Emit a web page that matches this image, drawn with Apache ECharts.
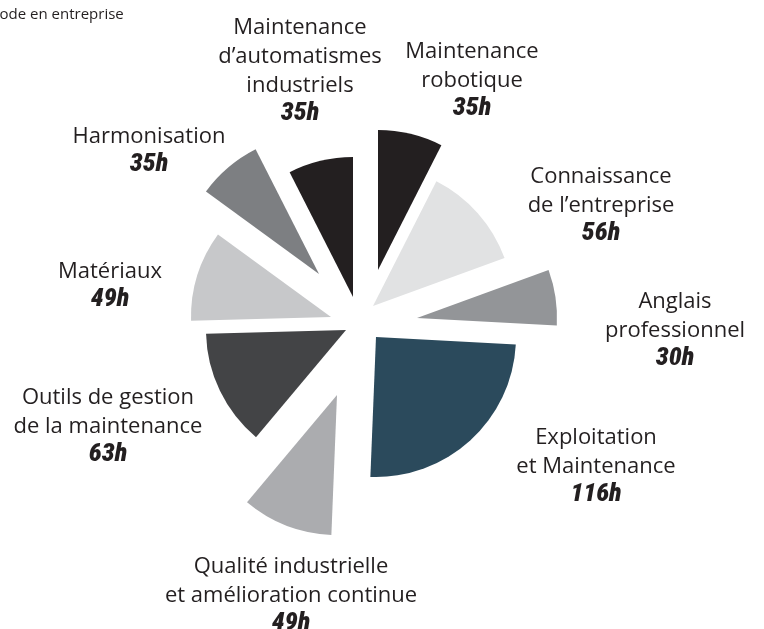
<!DOCTYPE html>
<html>
<head>
<meta charset="utf-8">
<script src="https://cdn.jsdelivr.net/npm/echarts@6/dist/echarts.min.js"></script>
<style>
html,body{margin:0;padding:0;background:#fff;}
#chart{width:764px;height:629px;}
</style>
</head>
<body>
<div id="chart"></div>
<script>
// Data (clockwise from 12 o'clock)
const categories = [
  "Maintenance\nrobotique",
  "Connaissance\nde l’entreprise",
  "Anglais\nprofessionnel",
  "Exploitation\net Maintenance",
  "Qualité industrielle\net amélioration continue",
  "Outils de gestion\nde la maintenance",
  "Matériaux",
  "Harmonisation",
  "Maintenance\nd’automatismes\nindustriels"
];
const hours = [35, 56, 30, 116, 49, 63, 49, 35, 35];

// Styles / layout (not data)
const colors = ["#231f20", "#e1e2e3", "#939598", "#2b4a5c", "#abacaf", "#434446", "#c7c8ca", "#7d7f82", "#231f20"];
const sliceCenters = [[378,270],[373,306],[417,318],[376,337],[337,395],[346,330],[331,317],[319,274],[353,297]];
const labelPos = [[472,37],[601,162],[675,287],[596,423],[291,552],[108,383],[110,257],[149,122],[300,13]];

const chart = echarts.init(document.getElementById('chart'), null, {renderer:'canvas'});

const rich = {
  n: {fontFamily: "'Open Sans', Roboto, sans-serif", fontSize: 22, lineHeight: 29, color: '#231f20', align: 'center'},
  v: {fontFamily: "'Roboto Condensed', 'Liberation Sans Narrow', Roboto, sans-serif", fontSize: 26, fontWeight: 900, fontStyle: 'italic', lineHeight: 26, color: '#231f20', align: 'center'}
};

const series = categories.map((cat, i) => ({
  type: 'pie',
  center: sliceCenters[i],
  radius: 140,
  startAngle: 90,
  clockwise: true,
  avoidLabelOverlap: false,
  silent: true,
  animation: false,
  label: {show: false},
  labelLine: {show: false},
  emphasis: {disabled: true},
  data: categories.map((name, j) => ({
    name: name,
    value: hours[j],
    itemStyle: {color: j === i ? colors[j] : 'rgba(0,0,0,0)', borderWidth: 0},
    label: j === i ? {
      show: true,
      position: 'outside',
      formatter: p => `{n|${p.name}}\n{v|${p.value}h}`,
      rich: rich
    } : {show: false}
  })),
  labelLayout: p => p.dataIndex === i ? {x: labelPos[i][0], y: labelPos[i][1], align: 'center', verticalAlign: 'top'} : {}
}));

chart.setOption({
  animation: false,
  title: {
    text: 'période en entreprise',
    left: -28,
    top: 7,
    padding: 0,
    textStyle: {fontFamily: "'Open Sans', Roboto, sans-serif", fontSize: 15, fontWeight: 'normal', color: '#231f20'}
  },
  series: series
});
</script>
</body>
</html>
